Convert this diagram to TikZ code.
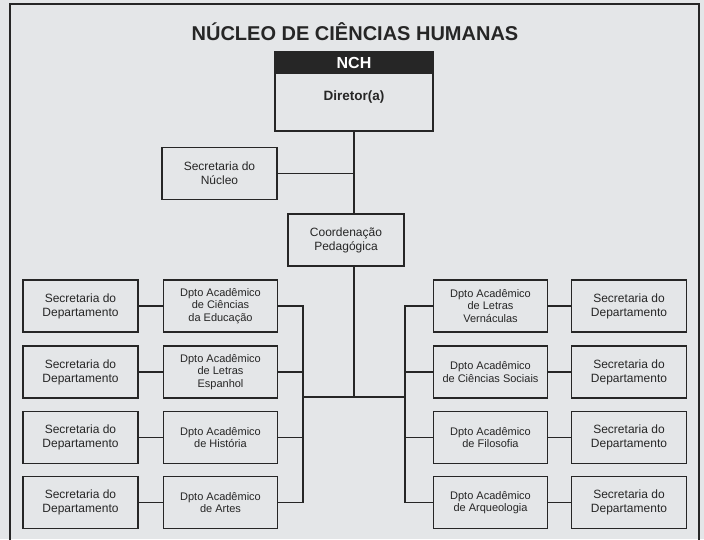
\documentclass[tikz,border=0pt]{standalone}
\usepackage{fontspec}
\setmainfont{Liberation Sans}
\usepackage{tikz}
\definecolor{paper}{RGB}{228,230,232}
\definecolor{ink}{RGB}{38,38,38}
\tikzstyle{bx}=[shape=rectangle,draw=ink,line width=1.8pt,fill=paper,text=ink,align=center,inner sep=1pt]
\tikzstyle{dpto}=[bx,minimum width=114pt,minimum height=52pt,font=\fontsize{11}{12.5}\selectfont]
\tikzstyle{sec}=[bx,minimum width=115pt,minimum height=52pt,font=\fontsize{12}{14}\selectfont]
\tikzstyle{ln}=[draw=ink,line width=1.5pt,line cap=rect]

\begin{document}
\begin{tikzpicture}[x=1pt,y=-1pt]
            \useasboundingbox[fill=paper] (0,0) rectangle (704,539);
            \draw[draw=ink,line width=1.8pt] (10,545) -- (10,4) -- (699,4) -- (699,545);
            \node[text=ink,font=\bfseries\fontsize{20}{24}\selectfont] (title) at (355,32) {NÚCLEO DE CIÊNCIAS HUMANAS};
            % direction
            \node[bx,minimum width=158pt,minimum height=79pt] (nch) at (354,91.5) {};
            \node[fill=ink,minimum width=158pt,minimum height=23pt,anchor=north,inner sep=0pt,
                text=white,font=\bfseries\fontsize{16}{18}\selectfont] (nchhead) at (nch.north) {NCH};
            \node[text=ink,font=\bfseries\fontsize{13.5}{16}\selectfont] (dir) at (354,97) {Diretor(a)};
            \coordinate (bus) at (354,397);
            \node[sec] (secn) at (219.5,173.5) {Secretaria do\\Núcleo};
            \draw[ln] (nch.south) -- (bus);
            \draw[ln] (secn.east) -- (secn.east -| nch.south);
            \node[sec,minimum width=116pt] (coord) at (346,240) {Coordenação\\Pedagógica};
            % left side
            \coordinate (lb1) at (303,306);
            \coordinate (lb4) at (303,502.5);
            \coordinate (rb1) at (405,306);
            \coordinate (rb4) at (405,502.5);
            \draw[ln] (lb1) -- (lb4);
            \draw[ln] (rb1) -- (rb4);
            \draw[ln] (bus -| lb1) -- (bus -| rb1);
            \node[dpto] (ld1) at (220.5,306) {Dpto Acadêmico\\de Ciências\\da Educação}
                edge[ln] (lb1)
            ;
            \node[dpto] (ld2) at (220.5,372) {Dpto Acadêmico\\de Letras\\Espanhol}
                edge[ln] (ld2 -| lb1)
            ;
            \node[dpto] (ld3) at (220.5,437.5) {Dpto Acadêmico\\de História}
                edge[ln] (ld3 -| lb1)
            ;
            \node[dpto] (ld4) at (220.5,502.5) {Dpto Acadêmico\\de Artes}
                edge[ln] (lb4)
            ;
            \node[sec] (ls1) at (80.5,306) {Secretaria do\\Departamento}
                edge[ln] (ld1)
            ;
            \node[sec] (ls2) at (80.5,372) {Secretaria do\\Departamento}
                edge[ln] (ld2)
            ;
            \node[sec] (ls3) at (80.5,437.5) {Secretaria do\\Departamento}
                edge[ln] (ld3)
            ;
            \node[sec] (ls4) at (80.5,502.5) {Secretaria do\\Departamento}
                edge[ln] (ld4)
            ;
            % right side
            \node[dpto] (rd1) at (490.5,306) {Dpto Acadêmico\\de Letras\\Vernáculas}
                edge[ln] (rb1)
            ;
            \node[dpto] (rd2) at (490.5,372) {Dpto Acadêmico\\de Ciências Sociais}
                edge[ln] (rd2 -| rb1)
            ;
            \node[dpto] (rd3) at (490.5,437.5) {Dpto Acadêmico\\de Filosofia}
                edge[ln] (rd3 -| rb1)
            ;
            \node[dpto] (rd4) at (490.5,502.5) {Dpto Acadêmico\\de Arqueologia}
                edge[ln] (rb4)
            ;
            \node[sec] (rs1) at (629,306) {Secretaria do\\Departamento}
                edge[ln] (rd1)
            ;
            \node[sec] (rs2) at (629,372) {Secretaria do\\Departamento}
                edge[ln] (rd2)
            ;
            \node[sec] (rs3) at (629,437.5) {Secretaria do\\Departamento}
                edge[ln] (rd3)
            ;
            \node[sec] (rs4) at (629,502.5) {Secretaria do\\Departamento}
                edge[ln] (rd4)
            ;
        \end{tikzpicture}
\end{document}
